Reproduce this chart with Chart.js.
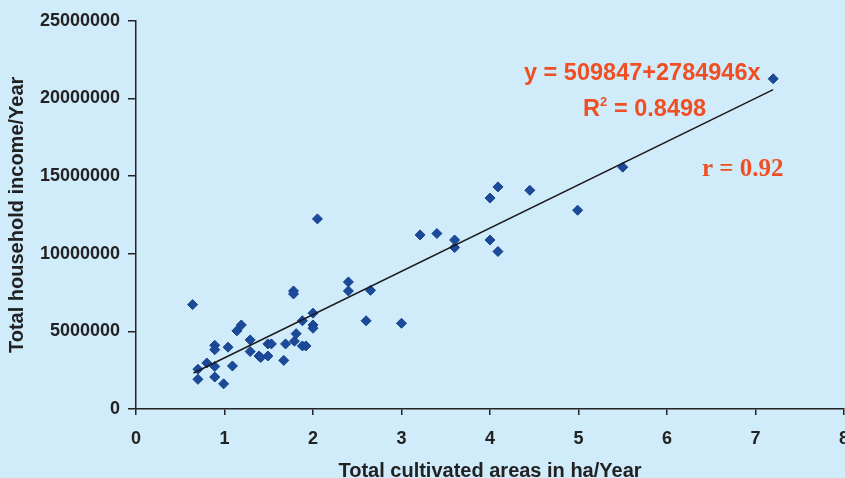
<!DOCTYPE html>
<html>
<head>
<meta charset="utf-8">
<script src="https://cdn.jsdelivr.net/npm/chart.js@4.4.1/dist/chart.umd.min.js"></script>
<style>
    html, body { margin: 0; padding: 0; background: #d0ebfa; overflow: hidden; }
    #wrap { width: 850px; height: 478px; position: relative; }
</style>
</head>
<body>
<div id="wrap"><canvas id="chart"></canvas></div>
<script>
// cultivated area (ha/year) vs household income (per year)
var areaHa = [
    0.64, 0.70, 0.70, 0.80, 0.89, 0.89, 0.89, 0.89, 0.99, 1.04,
    1.09, 1.14, 1.19, 1.29, 1.29, 1.39, 1.41, 1.49, 1.49, 1.53,
    1.67, 1.69, 1.78, 1.78, 1.79, 1.81, 1.88, 1.88, 1.92, 2.00,
    2.00, 2.00, 2.05, 2.40, 2.40, 2.60, 2.65, 3.00, 3.21, 3.40,
    3.60, 3.60, 4.00, 4.00, 4.09, 4.09, 4.45, 4.99, 5.50, 7.20
];
var incomeYear = [
    6720000, 2560000, 1910000, 2960000, 4100000, 3820000, 2740000, 2060000, 1620000, 3980000,
    2770000, 5030000, 5410000, 4450000, 3700000, 3410000, 3320000, 4190000, 3410000, 4190000,
    3130000, 4190000, 7600000, 7410000, 4370000, 4850000, 5680000, 4060000, 4060000, 6170000,
    5410000, 5200000, 12240000, 8180000, 7600000, 5680000, 7640000, 5520000, 11210000, 11300000,
    10880000, 10390000, 10880000, 13580000, 14300000, 10140000, 14080000, 12800000, 15570000, 21260000
];

// fitted line ends as drawn
var trendX = [0.65, 7.2];
var trendY = [2320000, 20560000];

var xTicks = [0, 1, 2, 3, 4, 5, 6, 7, 8];
var yTicks = [0, 5000000, 10000000, 15000000, 20000000, 25000000];

var eqnText = "y = 509847+2784946x";
var r2Text = "0.8498";
var rText = "r = 0.92";

var axisColor = "#222222";
var pointColor = "#1b4a9b";
var noteColor = "#f04e23";

var scatterPoints = [];
for (let i = 0; i < areaHa.length; i++) {
    scatterPoints.push({ x: areaHa[i], y: incomeYear[i] });
}
var trendPoints = [];
for (let i = 0; i < trendX.length; i++) {
    trendPoints.push({ x: trendX[i], y: trendY[i] });
}

// equation, R2 and r written over the plot
var notesPlugin = {
    id: "notes",
    afterDatasetsDraw: function(chart) {
        const ctx = chart.ctx;
        ctx.save();
        ctx.fillStyle = noteColor;
        ctx.textBaseline = "alphabetic";
        ctx.textAlign = "left";
        ctx.font = "bold 23.5px 'Liberation Sans', Arial, sans-serif";
        ctx.fillText(eqnText, 524, 80);

        ctx.fillText("R", 583, 116);
        ctx.font = "bold 13px 'Liberation Sans', Arial, sans-serif";
        ctx.fillText("2", 600, 106);
        ctx.font = "bold 23.5px 'Liberation Sans', Arial, sans-serif";
        ctx.fillText("= " + r2Text, 614, 116);

        ctx.font = "bold 25px 'Liberation Serif', 'Times New Roman', serif";
        ctx.fillText(rText, 702, 176);
        ctx.restore();
    }
};

const ctx = document.getElementById("chart").getContext("2d");
var chartId = new Chart(ctx, {
    type: "scatter",
    data: {
        datasets: [
            {
                data: scatterPoints,
                pointStyle: "rectRot",
                radius: 5,
                hoverRadius: 5,
                backgroundColor: pointColor,
                borderColor: "#173f88",
                borderWidth: 1,
                order: 2
            },
            {
                type: "line",
                data: trendPoints,
                borderColor: "#1a1a1a",
                borderWidth: 1.5,
                pointRadius: 0,
                fill: false,
                order: 1
            }
        ]
    },
    options: {
        responsive: true,
        maintainAspectRatio: false,
        animation: false,
        layout: {
            padding: { top: 20.7, right: 0, bottom: 0, left: 0 }
        },
        scales: {
            x: {
                type: "linear",
                min: 0,
                max: 8,
                afterBuildTicks: (scale) => {
                    scale.ticks = xTicks.map(v => ({ value: v }));
                },
                afterFit: (scale) => {
                    scale.height = 69;
                    scale.paddingLeft = 0;
                    scale.paddingRight = 0;
                },
                grid: {
                    drawOnChartArea: false,
                    drawTicks: true,
                    tickLength: 6,
                    color: axisColor,
                    lineWidth: 1.5
                },
                border: { color: axisColor, width: 1.5 },
                ticks: {
                    color: axisColor,
                    padding: 13,
                    maxRotation: 0,
                    font: { family: "'Liberation Sans', Arial, sans-serif", size: 18, weight: "bold" }
                },
                title: {
                    display: true,
                    text: "Total cultivated areas in ha/Year",
                    color: axisColor,
                    padding: { top: 0, bottom: -5 },
                    font: { family: "'Liberation Sans', Arial, sans-serif", size: 20, weight: "bold" }
                }
            },
            y: {
                type: "linear",
                min: 0,
                max: 25000000,
                afterBuildTicks: (scale) => {
                    scale.ticks = yTicks.map(v => ({ value: v }));
                },
                afterFit: (scale) => {
                    scale.width = 136;
                    scale.paddingTop = 0;
                    scale.paddingBottom = 0;
                },
                grid: {
                    drawOnChartArea: false,
                    drawTicks: true,
                    tickLength: 8,
                    color: axisColor,
                    lineWidth: 1.5
                },
                border: { color: axisColor, width: 1.5 },
                ticks: {
                    color: axisColor,
                    padding: 8,
                    callback: (val) => String(val),
                    font: { family: "'Liberation Sans', Arial, sans-serif", size: 18, weight: "bold" }
                },
                title: {
                    display: true,
                    text: "Total household income/Year",
                    color: axisColor,
                    padding: { top: 5, bottom: 0 },
                    font: { family: "'Liberation Sans', Arial, sans-serif", size: 20, weight: "bold" }
                }
            }
        },
        plugins: {
            legend: { display: false },
            tooltip: { enabled: false }
        }
    },
    plugins: [notesPlugin]
});
</script>
</body>
</html>
